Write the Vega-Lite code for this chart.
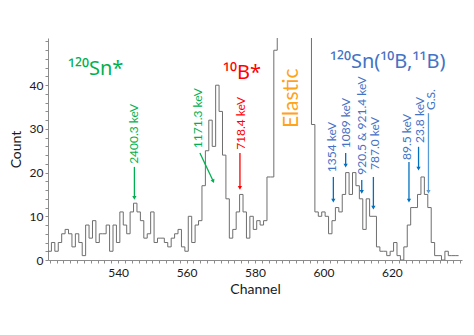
{
  "$schema": "https://vega.github.io/schema/vega-lite/v6.json",
  "width": 414,
  "height": 222,
  "autosize": {"type": "none"},
  "padding": {"left": 48, "top": 38, "right": 12, "bottom": 75},
  "background": "white",
  "config": {
    "view": {"stroke": null},
    "font": "Lato",
    "axis": {"labelOverlap": false, "labelFlush": false, "labelBound": false, "grid": false}
  },
  "datasets": {
    "histogram": [
      {"channel": 519.5, "count": 2}, {"channel": 520.5, "count": 4}, {"channel": 521.5, "count": 2}, {"channel": 522.5, "count": 4},
      {"channel": 523.5, "count": 6}, {"channel": 524.5, "count": 7}, {"channel": 525.5, "count": 6}, {"channel": 526.5, "count": 3},
      {"channel": 527.5, "count": 6}, {"channel": 528.5, "count": 4}, {"channel": 529.5, "count": 1}, {"channel": 530.5, "count": 8},
      {"channel": 531.5, "count": 5}, {"channel": 532.5, "count": 9}, {"channel": 533.5, "count": 4}, {"channel": 534.5, "count": 6},
      {"channel": 535.5, "count": 6}, {"channel": 536.5, "count": 8}, {"channel": 537.5, "count": 2}, {"channel": 538.5, "count": 8},
      {"channel": 539.5, "count": 4}, {"channel": 540.5, "count": 11}, {"channel": 541.5, "count": 8}, {"channel": 542.5, "count": 6},
      {"channel": 543.5, "count": 11}, {"channel": 544.5, "count": 13}, {"channel": 545.5, "count": 11}, {"channel": 546.5, "count": 9},
      {"channel": 547.5, "count": 5}, {"channel": 548.5, "count": 6}, {"channel": 549.5, "count": 11}, {"channel": 550.5, "count": 4},
      {"channel": 551.5, "count": 5}, {"channel": 552.5, "count": 5}, {"channel": 553.5, "count": 4}, {"channel": 554.5, "count": 3},
      {"channel": 555.5, "count": 5}, {"channel": 556.5, "count": 6}, {"channel": 557.5, "count": 7}, {"channel": 558.5, "count": 3},
      {"channel": 559.5, "count": 2}, {"channel": 560.5, "count": 10}, {"channel": 561.5, "count": 4}, {"channel": 562.5, "count": 8},
      {"channel": 563.5, "count": 9}, {"channel": 564.5, "count": 17}, {"channel": 565.5, "count": 25}, {"channel": 566.5, "count": 32},
      {"channel": 567.5, "count": 26}, {"channel": 568.5, "count": 40}, {"channel": 569.5, "count": 34}, {"channel": 570.5, "count": 24},
      {"channel": 571.5, "count": 14}, {"channel": 572.5, "count": 5}, {"channel": 573.5, "count": 7}, {"channel": 574.5, "count": 11},
      {"channel": 575.5, "count": 15}, {"channel": 576.5, "count": 11}, {"channel": 577.5, "count": 5}, {"channel": 578.5, "count": 10},
      {"channel": 579.5, "count": 7}, {"channel": 580.5, "count": 9}, {"channel": 581.5, "count": 8}, {"channel": 582.5, "count": 9},
      {"channel": 583.5, "count": 19}, {"channel": 584.5, "count": 19}, {"channel": 585.5, "count": 48}, {"channel": 586.5, "count": 95},
      {"channel": 587.5, "count": 210}, {"channel": 588.5, "count": 420}, {"channel": 589.5, "count": 610}, {"channel": 590.5, "count": 700},
      {"channel": 591.5, "count": 640}, {"channel": 592.5, "count": 450}, {"channel": 593.5, "count": 250}, {"channel": 594.5, "count": 120},
      {"channel": 595.5, "count": 62}, {"channel": 596.5, "count": 31}, {"channel": 597.5, "count": 11}, {"channel": 598.5, "count": 10},
      {"channel": 599.5, "count": 11}, {"channel": 600.5, "count": 10}, {"channel": 601.5, "count": 6}, {"channel": 602.5, "count": 9},
      {"channel": 603.5, "count": 12}, {"channel": 604.5, "count": 11}, {"channel": 605.5, "count": 15}, {"channel": 606.5, "count": 20},
      {"channel": 607.5, "count": 15}, {"channel": 608.5, "count": 20}, {"channel": 609.5, "count": 17}, {"channel": 610.5, "count": 14},
      {"channel": 611.5, "count": 7}, {"channel": 612.5, "count": 14}, {"channel": 613.5, "count": 10}, {"channel": 614.5, "count": 10},
      {"channel": 615.5, "count": 3}, {"channel": 616.5, "count": 2}, {"channel": 617.5, "count": 2}, {"channel": 618.5, "count": 1},
      {"channel": 619.5, "count": 2}, {"channel": 620.5, "count": 4}, {"channel": 621.5, "count": 1}, {"channel": 622.5, "count": 0},
      {"channel": 623.5, "count": 3}, {"channel": 624.5, "count": 8}, {"channel": 625.5, "count": 12}, {"channel": 626.5, "count": 12},
      {"channel": 627.5, "count": 15}, {"channel": 628.5, "count": 19}, {"channel": 629.5, "count": 15}, {"channel": 630.5, "count": 12},
      {"channel": 631.5, "count": 4}, {"channel": 632.5, "count": 1}, {"channel": 633.5, "count": 1}, {"channel": 634.5, "count": 0},
      {"channel": 635.5, "count": 2}, {"channel": 636.5, "count": 1}, {"channel": 637.5, "count": 1}, {"channel": 638.5, "count": 1},
      {"channel": 639.5, "count": 1}
    ],
    "arrows": [
      {"series": "120Sn*", "channel": 544.75, "count": 14.2, "count_tail": 21.3},
      {"series": "10B*", "channel": 575.6, "count": 16.5, "count_tail": 24.5},
      {"series": "120Sn(10B,11B)", "channel": 602.9, "count": 13.6, "count_tail": 19.0},
      {"series": "120Sn(10B,11B)", "channel": 606.5, "count": 21.6, "count_tail": 24.5},
      {"series": "120Sn(10B,11B)", "channel": 611.2, "count": 15.6, "count_tail": 18.3},
      {"series": "120Sn(10B,11B)", "channel": 614.6, "count": 12.0, "count_tail": 19.0},
      {"series": "120Sn(10B,11B)", "channel": 625.0, "count": 13.6, "count_tail": 22.4},
      {"series": "120Sn(10B,11B)", "channel": 627.8, "count": 20.9, "count_tail": 25.9},
      {"series": "ground state", "channel": 630.7, "count": 15.6, "count_tail": 33.6}
    ],
    "diagonal": [
      {"series": "120Sn*", "channel": 567.8, "count": 18.0, "channel_tail": 563.9, "count_tail": 24.5}
    ],
    "levels": [
      {"label": "2400.3 keV", "series": "120Sn*", "channel": 544.78, "count": 22.0},
      {"label": "1171.3 keV", "series": "120Sn*", "channel": 563.2, "count": 25.6},
      {"label": "718.4 keV", "series": "10B*", "channel": 576.0, "count": 25.2},
      {"label": "1354 keV", "series": "120Sn(10B,11B)", "channel": 602.4, "count": 20.1},
      {"label": "1089 keV", "series": "120Sn(10B,11B)", "channel": 606.6, "count": 25.6},
      {"label": "920.5 & 921.4 keV", "series": "120Sn(10B,11B)", "channel": 611.3, "count": 19.5},
      {"label": "787.0 keV", "series": "120Sn(10B,11B)", "channel": 615.2, "count": 20.6},
      {"label": "89.5 keV", "series": "120Sn(10B,11B)", "channel": 624.4, "count": 22.9},
      {"label": "23.8 keV", "series": "120Sn(10B,11B)", "channel": 628.2, "count": 26.8},
      {"label": "G.S.", "series": "120Sn(10B,11B)", "channel": 631.3, "count": 34.3}
    ],
    "groups": [
      {"label": "¹²⁰Sn*", "series": "120Sn*", "channel": 525.35, "count": 42.3},
      {"label": "¹⁰B*", "series": "10B*", "channel": 570.65, "count": 41.4},
      {"label": "¹²⁰Sn(¹⁰B,¹¹B)", "series": "120Sn(10B,11B)", "channel": 601.9, "count": 43.9}
    ],
    "elastic": [
      {"label": "Elastic", "channel": 590.7, "count": 30.2}
    ]
  },
  "resolve": {"scale": {"color": "independent"}},
  "encoding": {
    "x": {
      "field": "channel", "type": "quantitative", "title": "Channel",
      "scale": {"domain": [519.5, 640.5], "nice": false, "zero": false},
      "axis": {
        "values": [520,522,524,526,528,530,532,534,536,538,540,542,544,546,548,550,552,554,556,558,560,562,564,566,568,570,572,574,576,578,580,582,584,586,588,590,592,594,596,598,600,602,604,606,608,610,612,614,616,618,620,622,624,626,628,630,632,634,636,638,640],
        "labelExpr": "datum.value % 20 === 0 && datum.value >= 540 && datum.value <= 620 ? datum.label : ''",
        "labelOverlap": false, "labelFlush": false, "labelBound": false,
        "grid": false, "tickSize": 3, "labelPadding": 4,
        "domainColor": "#8c8c8c", "tickColor": "#8c8c8c",
        "labelFont": "Lato", "labelFontSize": 12, "labelColor": "#1a1a1a",
        "titleFont": "Lato", "titleFontSize": 14, "titleFontWeight": "normal", "titleColor": "#1a1a1a",
        "titlePadding": 4
      }
    },
    "y": {
      "field": "count", "type": "quantitative", "title": "Count",
      "scale": {"domain": [0, 50.8], "nice": false},
      "axis": {
        "values": [0,2,4,6,8,10,12,14,16,18,20,22,24,26,28,30,32,34,36,38,40,42,44,46,48,50],
        "labelExpr": "datum.value % 10 === 0 && datum.value <= 40 ? datum.label : ''",
        "labelOverlap": false, "labelFlush": false, "labelBound": false,
        "grid": false, "tickSize": 3, "labelPadding": 2,
        "domainColor": "#8c8c8c", "tickColor": "#8c8c8c",
        "labelFont": "Lato", "labelFontSize": 12, "labelColor": "#1a1a1a",
        "titleFont": "Lato", "titleFontSize": 14, "titleFontWeight": "normal", "titleColor": "#1a1a1a",
        "titlePadding": 6
      }
    }
  },
  "layer": [
    {
      "data": {"name": "histogram"},
      "mark": {"type": "line", "interpolate": "step-after", "clip": true, "color": "#6e6e6e", "strokeWidth": 1}
    },
    {
      "data": {"name": "arrows"},
      "mark": {"type": "rule", "strokeWidth": 1.3},
      "encoding": {
        "y2": {"field": "count_tail"},
        "color": {"field": "series", "type": "nominal", "legend": null,
          "scale": {"domain": ["120Sn*", "10B*", "120Sn(10B,11B)", "ground state"], "range": ["#00b050", "#ff0000", "#0070c0", "#5b9bd5"]}}
      }
    },
    {
      "data": {"name": "arrows"},
      "mark": {"type": "point", "shape": "triangle-down", "filled": true, "opacity": 1, "size": 18},
      "encoding": {
        "color": {"field": "series", "type": "nominal", "legend": null,
          "scale": {"domain": ["120Sn*", "10B*", "120Sn(10B,11B)", "ground state"], "range": ["#00b050", "#ff0000", "#0070c0", "#5b9bd5"]}}
      }
    },
    {
      "data": {"name": "diagonal"},
      "mark": {"type": "rule", "strokeWidth": 1.3, "color": "#00b050"},
      "encoding": {
        "x2": {"field": "channel_tail"},
        "y2": {"field": "count_tail"}
      }
    },
    {
      "data": {"name": "diagonal"},
      "mark": {"type": "point", "shape": "triangle-down", "filled": true, "opacity": 1, "size": 18, "angle": 335, "color": "#00b050"}
    },
    {
      "data": {"name": "levels"},
      "mark": {"type": "text", "angle": 270, "align": "left", "baseline": "middle", "font": "Lato", "fontSize": 12},
      "encoding": {
        "text": {"field": "label"},
        "color": {"field": "series", "type": "nominal", "legend": null,
          "scale": {"domain": ["120Sn*", "10B*", "120Sn(10B,11B)"], "range": ["#00b050", "#ff0000", "#4472c4"]}}
      }
    },
    {
      "data": {"name": "groups"},
      "mark": {"type": "text", "align": "left", "baseline": "alphabetic", "font": "Noto Sans", "fontSize": 20},
      "encoding": {
        "text": {"field": "label"},
        "color": {"field": "series", "type": "nominal", "legend": null,
          "scale": {"domain": ["120Sn*", "10B*", "120Sn(10B,11B)"], "range": ["#00b050", "#ff0000", "#4472c4"]}}
      }
    },
    {
      "data": {"name": "elastic"},
      "mark": {"type": "text", "angle": 270, "align": "left", "baseline": "middle", "font": "Lato", "fontSize": 21, "color": "#ffa31a"},
      "encoding": {
        "text": {"field": "label"}
      }
    }
  ]
}
